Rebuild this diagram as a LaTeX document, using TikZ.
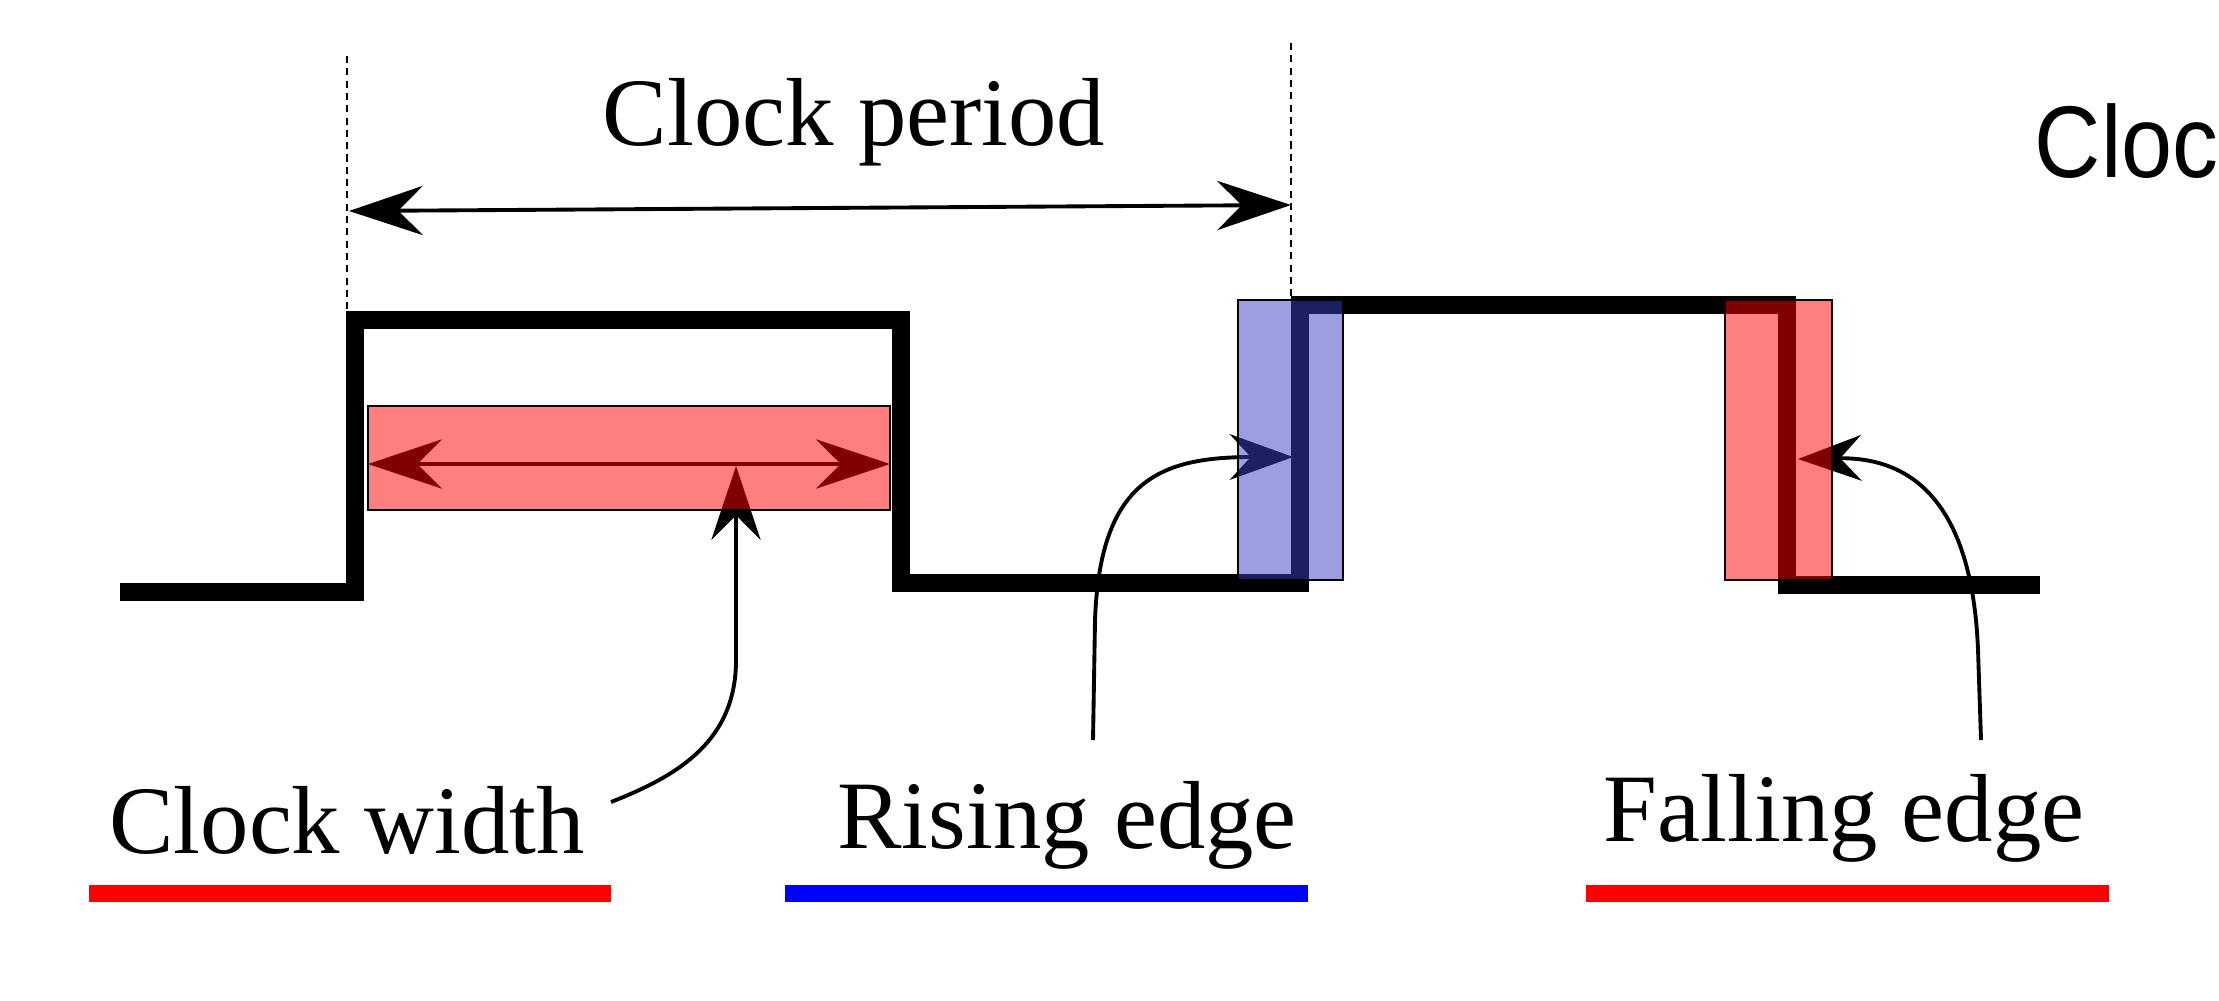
\documentclass[tikz,border=0pt]{standalone}
\usepackage{fontspec}
\setmainfont{Liberation Serif}
\newfontfamily\sansf{Liberation Sans}
\usetikzlibrary{arrows.meta}
\begin{document}
\begin{tikzpicture}[x=0.01cm,y=-0.01cm,
  wave/.style={line width=5pt, line join=miter},
  conn/.style={line width=1.1pt},
  guide/.style={line width=0.6pt, dash pattern=on 2pt off 1.5pt},
  lbl/.style={font=\fontsize{27.5}{30}\selectfont, anchor=base, inner sep=0pt},
  redbox/.style={draw=black, line width=0.8pt, fill=red, fill opacity=0.5},
  bluebox/.style={draw=black, line width=0.8pt, fill={rgb,255:red,60;green,60;blue,200}, fill opacity=0.5},
  bigtips/.style={{Stealth[length=21pt,width=14pt,inset=7pt]}-{Stealth[length=21pt,width=14pt,inset=7pt]}},
  bigtip/.style={-{Stealth[length=21pt,width=14pt,inset=7pt]}},
  smalltip/.style={-{Stealth[length=18pt,width=13pt,inset=6pt]}}]
\useasboundingbox (0,0) rectangle (2219,1000);
\fill[white] (0,0) rectangle (2219,1000);
% waveform
\draw[wave] (120,592) -- (355,592) -- (355,320) -- (901,320) -- (901,583) -- (1300,583) -- (1300,305) -- (1787,305) -- (1787,585) -- (2040,585);
% guides
\coordinate (gL1) at (347,56); \coordinate (gL2) at (347,318);
\coordinate (gR1) at (1291,43); \coordinate (gR2) at (1291,300);
\draw[guide] (gL1) -- (gL2);
\draw[guide] (gR1) -- (gR2);
% clock period
\coordinate (cpL) at (349,211); \coordinate (cpR) at (1291,205);
\draw[conn,bigtips] (cpL) -- (cpR);
\node[lbl] (cp) at (854,145) {Clock period};
% clock width arrows
\coordinate (cwL) at (368,464); \coordinate (cwR) at (890,464);
\draw[conn,bigtips] (cwL) -- (cwR);
\coordinate (cwTail) at (611,802); \coordinate (cwHead) at (736,466);
\draw[conn,bigtip] (cwTail) .. controls (680,775) and (736,740) .. (736,660) -- (cwHead);
% rising edge arrow
\coordinate (reTail) at (1093,740); \coordinate (reHead) at (1293,457);
\draw[conn,smalltip] (reTail) -- (1095,620) .. controls (1100,480) and (1160,457) .. (reHead);
% falling edge arrow
\coordinate (feTail) at (1981,740); \coordinate (feHead) at (1798,459);
\draw[conn,smalltip] (feTail) -- (1978,650) .. controls (1972,500) and (1910,457) .. (feHead);
% highlight boxes
\draw[redbox] (368,406) rectangle (890,510);
\draw[bluebox] (1238,300) rectangle (1343,580);
\draw[redbox] (1725,300) rectangle (1832,580);
% labels
\node[lbl] (cw) at (347,853) {Clock width};
\node[lbl] (re) at (1067,848) {Rising edge};
\node[lbl] (fe) at (1844,841) {Falling edge};
\fill[red] (89,885) rectangle (611,902);
\fill[blue] (785,885) rectangle (1308,902);
\fill[red] (1586,885) rectangle (2109,902);
\node[font=\sansf\fontsize{29}{31}\selectfont, anchor=base west, inner sep=0pt] (ttl) at (2034,177) {\scalebox{0.9}[1]{Cloc}};
\end{tikzpicture}
\end{document}
